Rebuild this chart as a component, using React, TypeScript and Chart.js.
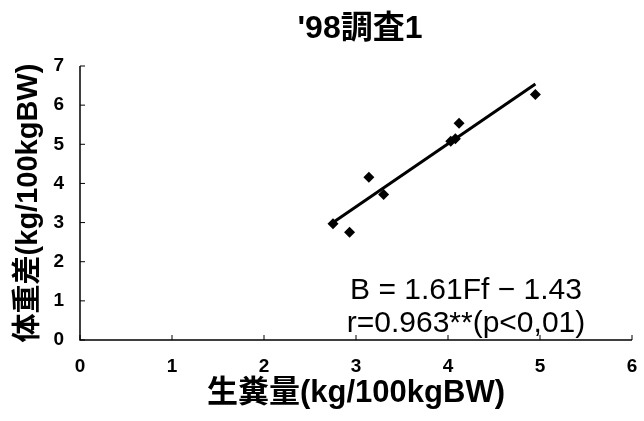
import React, { useEffect, useRef } from "react";
import { Chart, registerables } from "chart.js";

Chart.register(...registerables);

const chartTitle = "'98調査1";
const xTitle = "生糞量(kg/100kgBW)";
const yTitle = "体重差(kg/100kgBW)";
const equationText = "B = 1.61Ff − 1.43";
const corrText = "r=0.963**(p<0,01)";

const obsX = [2.75, 2.93, 3.14, 3.30, 4.03, 4.08, 4.12, 4.95];
const obsY = [2.97, 2.75, 4.16, 3.72, 5.08, 5.14, 5.54, 6.27];

const fitX = [2.75, 4.95];
const fitY = [3.0, 6.54];

const xTicks = [0, 1, 2, 3, 4, 5, 6];
const yTicks = [0, 1, 2, 3, 4, 5, 6, 7];

const LATIN = "'Liberation Sans', 'Noto Sans CJK JP', sans-serif";
const TICKFONT = "'Liberation Sans Narrow', 'Liberation Sans', sans-serif";

const decorPlugin = {
  id: "decor",
  afterDraw(chart: any) {
    const { ctx, scales } = chart;
    const xs = scales.x;
    const ys = scales.y;
    ctx.save();
    ctx.strokeStyle = "#000";
    ctx.lineWidth = 1.5;
    ctx.beginPath();
    ctx.moveTo(xs.left, ys.top);
    ctx.lineTo(xs.left, ys.bottom);
    ctx.lineTo(xs.right, ys.bottom);
    ctx.stroke();
    ctx.lineWidth = 1;
    ctx.beginPath();
    for (const v of yTicks) {
      const py = ys.getPixelForValue(v);
      ctx.moveTo(xs.left, py);
      ctx.lineTo(xs.left + 5, py);
    }
    for (const v of xTicks) {
      const px = xs.getPixelForValue(v);
      ctx.moveTo(px, ys.bottom);
      ctx.lineTo(px, ys.bottom - 5);
    }
    ctx.stroke();
    ctx.fillStyle = "#000";
    ctx.textAlign = "center";
    ctx.textBaseline = "middle";
    ctx.font = `bold 32px ${LATIN}`;
    ctx.fillText(chartTitle, 360, 29);
    ctx.font = `30px ${LATIN}`;
    ctx.fillText(equationText, 466, 291);
    ctx.fillText(corrText, 466, 324);
    ctx.restore();
  },
};

export default function App() {
  const ref = useRef<HTMLCanvasElement>(null);
  useEffect(() => {
    if (!ref.current) return;
    const chart = new Chart(ref.current, {
      type: "scatter",
      data: {
        datasets: [
          {
            type: "line",
            data: fitX.map((x, i) => ({ x, y: fitY[i] })),
            borderColor: "#000",
            borderWidth: 3,
            pointRadius: 0,
            fill: false,
          } as any,
          {
            data: obsX.map((x, i) => ({ x, y: obsY[i] })),
            pointStyle: "rectRot",
            pointRadius: 5.5,
            backgroundColor: "#000",
            borderColor: "#000",
            borderWidth: 0,
          },
        ],
      },
      options: {
        responsive: false,
        animation: false,
        layout: { padding: { left: 0, right: 12, top: 66, bottom: 0 } },
        plugins: { legend: { display: false }, tooltip: { enabled: false } },
        scales: {
          x: {
            type: "linear",
            min: 0,
            max: 6,
            border: { display: false },
            grid: { display: false, drawTicks: false },
            ticks: {
              stepSize: 1,
              padding: 15,
              color: "#000",
              maxRotation: 0,
              font: { family: TICKFONT, size: 19, weight: "bold" },
            },
            title: {
              display: true,
              text: xTitle,
              color: "#000",
              font: { family: LATIN, size: 31, weight: "bold", lineHeight: 1.2 },
              padding: { top: 0, bottom: 9 },
            },
            afterFit(scale: any) {
              scale.height = 81;
              scale.paddingLeft = 0;
              scale.paddingRight = 0;
            },
          },
          y: {
            type: "linear",
            min: 0,
            max: 7,
            border: { display: false },
            grid: { display: false, drawTicks: false },
            ticks: {
              stepSize: 1,
              padding: 16,
              color: "#000",
              font: { family: TICKFONT, size: 19, weight: "bold" },
            },
            title: {
              display: true,
              text: yTitle,
              color: "#000",
              font: { family: LATIN, size: 29, weight: "bold", lineHeight: 1.2 },
              padding: { top: 12, bottom: 0 },
            },
            afterFit(scale: any) {
              scale.width = 80;
            },
          },
        },
      },
      plugins: [decorPlugin],
    });
    return () => chart.destroy();
  }, []);
  return (
    <div style={{ position: "fixed", left: 0, top: 0, width: 644, height: 421, background: "#fff" }}>
      <canvas ref={ref} width={644} height={421} />
    </div>
  );
}
